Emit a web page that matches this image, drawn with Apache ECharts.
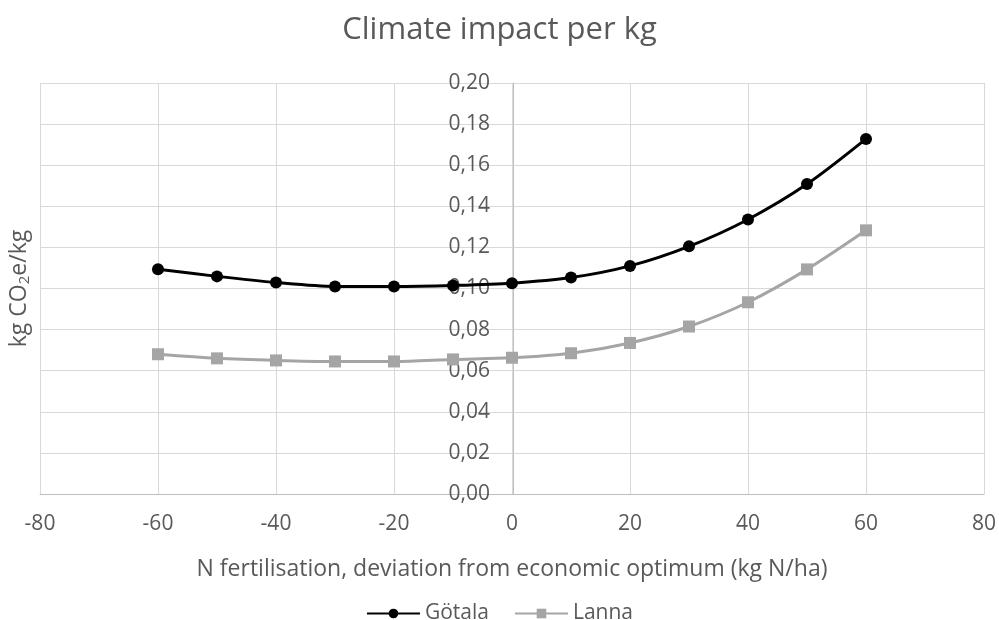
<!DOCTYPE html>
<html><head><meta charset="utf-8">
<script src="https://cdn.jsdelivr.net/npm/echarts@6/dist/echarts.min.js"></script>
<style>html,body{margin:0;padding:0;background:#fff}#c{width:999px;height:620px}</style>
</head><body><div id="c"></div>
<script>
const xValues = [-60,-50,-40,-30,-20,-10,0,10,20,30,40,50,60];
const gotala = [0.1094,0.1059,0.1029,0.1010,0.1010,0.1015,0.1026,0.1053,0.1110,0.1205,0.1336,0.1508,0.1728];
const lanna = [0.0680,0.0660,0.0650,0.0645,0.0645,0.0655,0.0663,0.0685,0.0735,0.0815,0.0933,0.1093,0.1283];
const seriesNames = ['Götala','Lanna'];
const font = '"Open Sans", "Noto Sans", sans-serif';
const gridLeft = 38, gridRight = 15;
const chart = echarts.init(document.getElementById('c'));
const plotW = 999 - gridLeft - gridRight;
chart.setOption({
  animation:false,
  textStyle:{fontFamily:font},
  title:{text:'Climate impact per kg',left:'center',top:10,textStyle:{fontFamily:font,fontSize:31,fontWeight:'normal',color:'#595959'}},
  grid:{left:gridLeft,right:gridRight,top:83,bottom:126},
  legend:{top:598,left:'center',itemWidth:53,itemHeight:12,itemGap:25,textStyle:{fontSize:21,color:'#595959',fontFamily:font},data:seriesNames},
  xAxis:{type:'value',min:-80,max:80,interval:20,
    name:'N fertilisation, deviation from economic optimum (kg N/ha)',nameLocation:'middle',nameGap:64,
    nameTextStyle:{fontSize:23,color:'#595959',fontFamily:font},
    axisLine:{onZero:false,lineStyle:{color:'#bfbfbf',width:1}},axisTick:{show:false},
    axisLabel:{fontSize:21,color:'#595959',margin:20,fontFamily:font},
    splitLine:{show:true,lineStyle:{color:'#d9d9d9',width:1}}},
  yAxis:[{type:'value',min:0,max:0.2,interval:0.02,position:'left',offset:-plotW/2,
    axisLine:{show:true,onZero:false,lineStyle:{color:'#bfbfbf',width:1}},axisTick:{show:false},
    axisLabel:{fontSize:21,color:'#595959',margin:23,fontFamily:font,formatter:v=>v.toFixed(2).replace('.',',')},
    splitLine:{show:true,lineStyle:{color:'#d9d9d9',width:1}}},
   {type:'value',min:0,max:0.2,interval:0.02,position:'left',
    name:'{a|kg CO}{s|2}{a|e/kg}',nameLocation:'middle',nameGap:8,
    nameTextStyle:{rich:{a:{fontSize:23,color:'#595959',fontFamily:font},s:{fontSize:15,color:'#595959',fontFamily:font,verticalAlign:'bottom',padding:[10,0,0,0]}}},
    axisLine:{show:false},axisTick:{show:false},axisLabel:{show:false},splitLine:{show:false}}],
  series:[
    {name:seriesNames[0],type:'line',smooth:0.3,data:xValues.map((x,i)=>[x,gotala[i]]),symbol:'circle',symbolSize:12,
      lineStyle:{color:'#000',width:3},itemStyle:{color:'#000'},z:3},
    {name:seriesNames[1],type:'line',smooth:0.3,data:xValues.map((x,i)=>[x,lanna[i]]),symbol:'rect',symbolSize:12,
      lineStyle:{color:'#a5a5a5',width:3},itemStyle:{color:'#a5a5a5'},z:2}
  ]
});
</script></body></html>
